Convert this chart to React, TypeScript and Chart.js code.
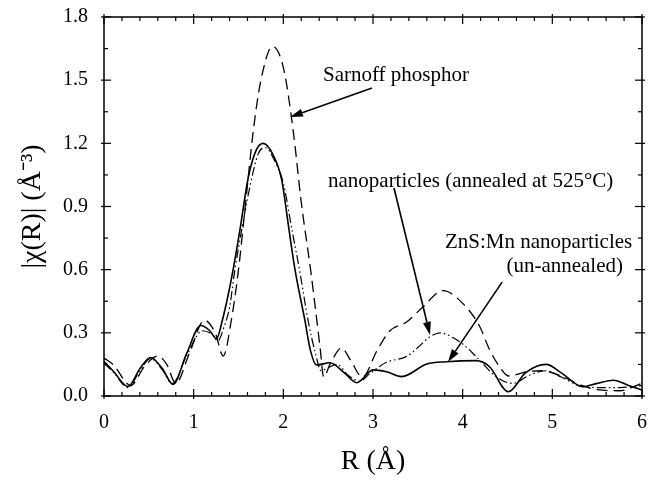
import React, { useEffect, useRef } from "react";
import { Chart, registerables } from "chart.js";

Chart.register(...registerables);

// ZnS:Mn nanoparticles (un-annealed) — solid
const unannealedR = [0, 0.1, 0.27, 0.4, 0.52, 0.65, 0.77, 0.92, 1.08, 1.18, 1.255, 1.32, 1.38, 1.44, 1.52, 1.61, 1.7, 1.776, 1.88, 1.98, 2.06, 2.13, 2.24, 2.3, 2.37, 2.52, 2.68, 2.82, 3.0, 3.15, 3.32, 3.6, 3.82, 4.15, 4.3, 4.51, 4.7, 4.93, 5.1, 5.34, 5.5, 5.68, 5.85, 6.0];
const unannealedChi = [0.165, 0.12, 0.045, 0.13, 0.183, 0.13, 0.055, 0.2, 0.335, 0.31, 0.272, 0.36, 0.47, 0.6, 0.8, 1.04, 1.17, 1.2, 1.15, 1.03, 0.8, 0.6, 0.36, 0.22, 0.147, 0.158, 0.11, 0.063, 0.124, 0.115, 0.092, 0.152, 0.163, 0.168, 0.139, 0.02, 0.11, 0.15, 0.11, 0.044, 0.06, 0.075, 0.05, 0.028];

// nanoparticles (annealed at 525°C) — dash-dot-dot
const annealedR = [0, 0.1, 0.27, 0.4, 0.52, 0.65, 0.76, 0.92, 1.1, 1.2, 1.27, 1.34, 1.4, 1.46, 1.54, 1.63, 1.72, 1.8, 1.9, 2.0, 2.1, 2.18, 2.28, 2.36, 2.42, 2.5, 2.6, 2.72, 2.85, 2.97, 3.15, 3.37, 3.5, 3.63, 3.75, 3.9, 4.02, 4.15, 4.38, 4.56, 4.75, 4.93, 5.1, 5.33, 5.55, 5.75, 6.0];
const annealedChi = [0.155, 0.115, 0.04, 0.12, 0.178, 0.125, 0.058, 0.19, 0.31, 0.295, 0.262, 0.33, 0.42, 0.6, 0.8, 1.0, 1.15, 1.18, 1.12, 1.01, 0.78, 0.6, 0.35, 0.2, 0.12, 0.135, 0.15, 0.1, 0.07, 0.108, 0.16, 0.187, 0.23, 0.28, 0.3, 0.275, 0.24, 0.187, 0.09, 0.06, 0.1, 0.12, 0.09, 0.045, 0.04, 0.04, 0.05];

// Sarnoff phosphor — long dash
const sarnoffR = [0, 0.1, 0.3, 0.45, 0.6, 0.7, 0.8, 0.95, 1.12, 1.24, 1.33, 1.42, 1.5, 1.58, 1.665, 1.75, 1.88, 2.0, 2.11, 2.2, 2.31, 2.41, 2.45, 2.52, 2.65, 2.75, 2.88, 3.05, 3.19, 3.37, 3.55, 3.78, 4.0, 4.19, 4.3, 4.41, 4.51, 4.71, 4.88, 5.1, 5.3, 5.5, 5.75, 6.0];
const sarnoffChi = [0.18, 0.15, 0.05, 0.14, 0.19, 0.15, 0.06, 0.2, 0.36, 0.3, 0.19, 0.36, 0.6, 0.92, 1.26, 1.5, 1.66, 1.56, 1.26, 0.92, 0.58, 0.23, 0.09, 0.15, 0.228, 0.17, 0.09, 0.22, 0.31, 0.35, 0.42, 0.5, 0.44, 0.33, 0.22, 0.14, 0.095, 0.115, 0.12, 0.095, 0.055, 0.03, 0.025, 0.06];

const xTicks = [0, 1, 2, 3, 4, 5, 6];
const yTicks = [0, 0.3, 0.6, 0.9, 1.2, 1.5, 1.8];
const xMinorStep = 0.2;
const yMinorStep = 0.15;

const xTitle = "R (Å)";
const yTitle = "|χ(R)| (Å⁻³)";

const SERIF = '"Liberation Serif", "Times New Roman", serif';

type Note = { text: string; x: number; y: number; align: CanvasTextAlign };
const notes: Note[] = [
  { text: "Sarnoff phosphor", x: 2.442, y: 1.52, align: "left" },
  { text: "nanoparticles (annealed at 525°C)", x: 2.498, y: 1.021, align: "left" },
  { text: "ZnS:Mn nanoparticles", x: 3.803, y: 0.727, align: "left" },
  { text: "(un-annealed)", x: 5.788, y: 0.613, align: "right" },
];
type Arrow = { x0: number; y0: number; x1: number; y1: number };
const arrows: Arrow[] = [
  { x0: 2.989, y0: 1.463, x1: 2.074, y1: 1.325 },
  { x0: 3.234, y0: 0.988, x1: 3.636, y1: 0.29 },
  { x0: 4.44, y0: 0.541, x1: 3.836, y1: 0.161 },
];

const toPts = (xs: number[], ys: number[]) => xs.map((x, i) => ({ x, y: ys[i] }));

const framePlugin = {
  id: "frameTicksNotes",
  afterDraw(chart: any) {
    const { ctx, chartArea: a, scales } = chart;
    const sx = scales.x;
    const sy = scales.y;
    ctx.save();
    ctx.strokeStyle = "#000";
    ctx.fillStyle = "#000";
    ctx.lineWidth = 1.5;
    ctx.strokeRect(a.left, a.top, a.right - a.left, a.bottom - a.top);
    ctx.lineWidth = 1.2;
    const seg = (x0: number, y0: number, x1: number, y1: number) => {
      ctx.beginPath();
      ctx.moveTo(x0, y0);
      ctx.lineTo(x1, y1);
      ctx.stroke();
    };
    const xMin = xTicks[0], xMax = xTicks[xTicks.length - 1];
    const nx = Math.round((xMax - xMin) / xMinorStep);
    for (let i = 0; i <= nx; i++) {
      const v = xMin + i * xMinorStep;
      const major = xTicks.some((t) => Math.abs(t - v) < 1e-6);
      const px = sx.getPixelForValue(v);
      const inL = major ? 7 : 4;
      const outL = major ? 3 : 0;
      seg(px, a.bottom + outL, px, a.bottom - inL);
      seg(px, a.top - outL, px, a.top + inL);
    }
    const yMin = yTicks[0], yMax = yTicks[yTicks.length - 1];
    const ny = Math.round((yMax - yMin) / yMinorStep);
    for (let i = 0; i <= ny; i++) {
      const v = yMin + i * yMinorStep;
      const major = yTicks.some((t) => Math.abs(t - v) < 1e-6);
      const py = sy.getPixelForValue(v);
      const inL = major ? 7 : 4;
      const outL = major ? 3 : 0;
      seg(a.left - outL, py, a.left + inL, py);
      seg(a.right + outL, py, a.right - inL, py);
    }
    // annotations
    ctx.font = `21px ${SERIF}`;
    ctx.textBaseline = "middle";
    for (const n of notes) {
      ctx.textAlign = n.align;
      ctx.fillText(n.text, sx.getPixelForValue(n.x), sy.getPixelForValue(n.y));
    }
    ctx.lineWidth = 1.6;
    for (const ar of arrows) {
      const x0 = sx.getPixelForValue(ar.x0);
      const y0 = sy.getPixelForValue(ar.y0);
      const x1 = sx.getPixelForValue(ar.x1);
      const y1 = sy.getPixelForValue(ar.y1);
      const ang = Math.atan2(y1 - y0, x1 - x0);
      const L = 13, W = 4;
      const bx = x1 - L * Math.cos(ang);
      const by = y1 - L * Math.sin(ang);
      seg(x0, y0, bx, by);
      ctx.beginPath();
      ctx.moveTo(x1, y1);
      ctx.lineTo(bx + W * Math.sin(ang), by - W * Math.cos(ang));
      ctx.lineTo(bx - W * Math.sin(ang), by + W * Math.cos(ang));
      ctx.closePath();
      ctx.fill();
    }
    ctx.restore();
  },
};

export default function App() {
  const ref = useRef<HTMLCanvasElement | null>(null);
  useEffect(() => {
    document.body.style.margin = "0";
    const canvas = ref.current;
    if (!canvas) return;
    const chart = new Chart(canvas, {
      type: "line",
      data: {
        datasets: [
          {
            label: "ZnS:Mn nanoparticles (un-annealed)",
            data: toPts(unannealedR, unannealedChi),
            borderColor: "#000",
            borderWidth: 1.6,
            pointRadius: 0,
            cubicInterpolationMode: "monotone",
            fill: false,
          },
          {
            label: "nanoparticles (annealed at 525°C)",
            data: toPts(annealedR, annealedChi),
            borderColor: "#000",
            borderWidth: 1.2,
            borderDash: [9, 3, 1.5, 3, 1.5, 3],
            pointRadius: 0,
            cubicInterpolationMode: "monotone",
            fill: false,
          },
          {
            label: "Sarnoff phosphor",
            data: toPts(sarnoffR, sarnoffChi),
            borderColor: "#000",
            borderWidth: 1.3,
            borderDash: [11, 6],
            pointRadius: 0,
            cubicInterpolationMode: "monotone",
            fill: false,
          },
        ],
      },
      options: {
        animation: false,
        responsive: false,
        devicePixelRatio: 1,
        layout: { padding: { top: 17, right: 11, left: 0, bottom: 0 } },
        plugins: { legend: { display: false }, tooltip: { enabled: false } },
        scales: {
          x: {
            type: "linear",
            min: xTicks[0],
            max: xTicks[xTicks.length - 1],
            afterBuildTicks: (s: any) => {
              s.ticks = xTicks.map((v) => ({ value: v }));
            },
            afterFit: (s: any) => {
              s.height = 84;
              s.paddingLeft = 0;
              s.paddingRight = 0;
            },
            grid: { display: false, drawTicks: false },
            border: { display: false },
            ticks: {
              color: "#000",
              padding: 15,
              maxRotation: 0,
              font: { family: SERIF, size: 20 },
              callback: (v: any) => String(v),
            },
            title: {
              display: true,
              text: xTitle,
              color: "#000",
              font: { family: SERIF, size: 28 },
              padding: { bottom: 2, top: 0 },
            },
          },
          y: {
            type: "linear",
            min: yTicks[0],
            max: yTicks[yTicks.length - 1],
            afterBuildTicks: (s: any) => {
              s.ticks = yTicks.map((v) => ({ value: v }));
            },
            afterFit: (s: any) => {
              s.width = 104;
              s.paddingTop = 0;
              s.paddingBottom = 0;
            },
            grid: { display: false, drawTicks: false },
            border: { display: false },
            ticks: {
              color: "#000",
              padding: 16,
              font: { family: SERIF, size: 20 },
              callback: (v: any) => Number(v).toFixed(1),
            },
            title: {
              display: true,
              text: yTitle,
              color: "#000",
              font: { family: SERIF, size: 28 },
              padding: { top: 16, bottom: 0 },
            },
          },
        },
      },
      plugins: [framePlugin],
    } as any);
    return () => chart.destroy();
  }, []);
  return (
    <div style={{ width: 653, height: 480, background: "#fff" }}>
      <canvas ref={ref} width={653} height={480} style={{ display: "block" }} />
    </div>
  );
}
